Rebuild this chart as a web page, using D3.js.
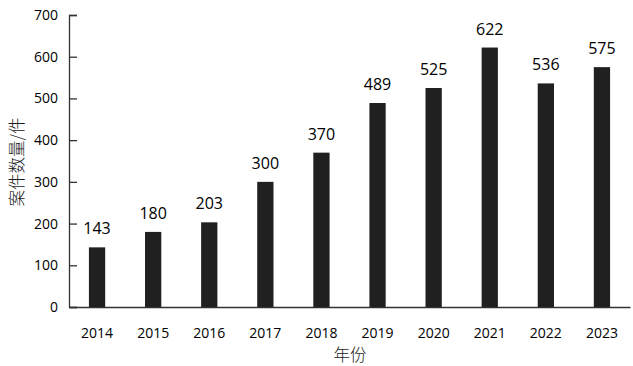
<!DOCTYPE html>
<html>
<head>
<meta charset="utf-8">
<script src="https://cdn.jsdelivr.net/npm/d3@7"></script>
<style>
  body { margin: 0; background: #fff; }
  svg { display: block; }
  .tick text { font-family: "Open Sans", "Liberation Sans", sans-serif; }
</style>
</head>
<body>
<svg id="chart" width="633" height="366"></svg>
<script>
// Data
const years = ["2014", "2015", "2016", "2017", "2018", "2019", "2020", "2021", "2022", "2023"];
const counts = [143, 180, 203, 300, 370, 489, 525, 622, 536, 575];
const yTicks = [0, 100, 200, 300, 400, 500, 600, 700];

const width = 633, height = 366;
const margin = {top: 15, right: 3, bottom: 59, left: 69};
const svg = d3.select("#chart");

const data = years.map((y, i) => ({year: y, value: counts[i]}));

const xScale = d3.scaleBand()
    .domain(years)
    .range([margin.left, width - margin.right])
    .paddingInner(0.71)
    .paddingOuter(0.355);

const yScale = d3.scaleLinear()
    .domain([0, 700])
    .range([height - margin.bottom, margin.top]);

// Axes
const yAxis = d3.axisRight(yScale)
    .tickValues(yTicks)
    .tickSize(8)
    .tickFormat(d3.format("d"));

const yG = svg.append("g")
    .attr("transform", `translate(${margin.left}, 0)`)
    .call(yAxis);
yG.select(".domain").attr("stroke", "#333").attr("stroke-width", 1.3);
yG.selectAll(".tick line").attr("stroke", "#333").attr("stroke-width", 1.3);
yG.selectAll(".tick text")
    .attr("x", -11)
    .attr("text-anchor", "end")
    .attr("font-size", "14px")
    .attr("fill", "#000");

const xAxis = d3.axisBottom(xScale).tickSize(0).tickSizeOuter(0);
const xG = svg.append("g")
    .attr("transform", `translate(0, ${height - margin.bottom})`)
    .call(xAxis);
xG.select(".domain").attr("stroke", "#333").attr("stroke-width", 1.3);
xG.selectAll(".tick text")
    .attr("y", 21)
    .attr("font-size", "14px")
    .attr("fill", "#000");

// Bars
svg.selectAll("rect.bar")
    .data(data)
    .enter()
    .append("rect")
    .attr("class", "bar")
    .attr("x", d => xScale(d.year))
    .attr("y", d => yScale(d.value))
    .attr("width", xScale.bandwidth())
    .attr("height", d => yScale(0) - yScale(d.value))
    .attr("fill", "#202020");

// Value labels
svg.selectAll("text.value")
    .data(data)
    .enter()
    .append("text")
    .attr("class", "value")
    .attr("x", d => xScale(d.year) + xScale.bandwidth() / 2)
    .attr("y", d => yScale(d.value) - 13)
    .attr("text-anchor", "middle")
    .attr("font-family", "'Open Sans', 'Liberation Sans', sans-serif")
    .attr("font-size", "16px")
    .attr("fill", "#000")
    .text(d => d.value);

// Axis titles
svg.append("text")
    .attr("text-anchor", "middle")
    .attr("transform", "rotate(-90)")
    .attr("x", -162)
    .attr("y", 23)
    .attr("font-family", "'Noto Sans CJK SC', sans-serif")
    .attr("font-size", "16.5px")
    .attr("font-weight", 300)
    .attr("fill", "#1a1a1a")
    .text("案件数量/件");

svg.append("text")
    .attr("text-anchor", "middle")
    .attr("x", 350)
    .attr("y", 361)
    .attr("font-family", "'Noto Sans CJK SC', sans-serif")
    .attr("font-size", "16.5px")
    .attr("font-weight", 300)
    .attr("fill", "#1a1a1a")
    .text("年份");
</script>
</body>
</html>
